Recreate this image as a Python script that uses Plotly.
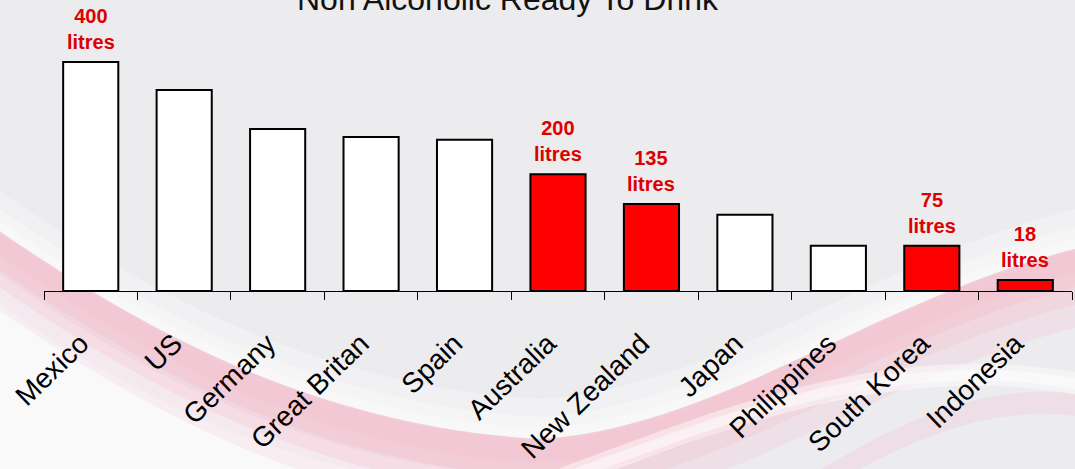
import plotly.graph_objects as go

# ---------------- data ----------------
countries = ["Mexico", "US", "Germany", "Great Britan", "Spain", "Australia",
             "New Zealand", "Japan", "Philippines", "South Korea", "Indonesia"]
litres = [400, 351, 283, 269, 264, 204, 152, 133, 79, 79, 19]
highlighted = ["Australia", "New Zealand", "South Korea", "Indonesia"]
value_labels = {"Mexico": "400", "Australia": "200", "New Zealand": "135",
                "South Korea": "75", "Indonesia": "18"}
unit = "litres"
title_text = "Non Alcoholic Ready To Drink"

# ---------------- layout geometry ----------------
W, H = 1075, 469
ML, MR, MT, MB = 44, 2.5, 40, 178
PW = W - ML - MR
PH = H - MT - MB

def P(x, y):
    """pixel -> paper coordinates string"""
    return f"{(x - ML) / PW:.5f},{(H - MB - y) / PH:.5f}"

def path(cmds):
    return " ".join(c if isinstance(c, str) else P(*c) for c in cmds)

shapes = []
def add_shape(cmds, color):
    shapes.append(dict(type="path", xref="paper", yref="paper", layer="below",
                       path=path(cmds), fillcolor=color, line=dict(width=0)))

def band(segs, d_up, d_down, color, dy=0):
    """segs: list of cubic segments (p0,p1,p2,p3) in pixels; band around them."""
    sh = lambda p, o: (p[0], p[1] + dy + o)
    cmds = ["M", sh(segs[0][0], -d_up)]
    for s in segs:
        cmds += ["C", sh(s[1], -d_up), sh(s[2], -d_up), sh(s[3], -d_up)]
    cmds += ["L", sh(segs[-1][3], d_down)]
    for s in reversed(segs):
        cmds += ["C", sh(s[2], d_down), sh(s[1], d_down), sh(s[0], d_down)]
    cmds.append("Z")
    add_shape(cmds, color)

swoosh = [((-5, 252), (120, 338), (300, 450), (540, 463)),
          ((540, 463), (720, 452), (880, 320), (1080, 272))]
PINK = "250,172,194"

# whitish lower-left region
add_shape(["M", (-5, 270), "C", (120, 360), (300, 470), (560, 478),
           "L", (-5, 478), "Z"], "rgba(255,255,255,0.45)")
add_shape(["M", (-5, 300), "C", (120, 390), (300, 490), (560, 495),
           "L", (-5, 495), "Z"], "rgba(255,255,255,0.45)")
# white glow above the band
band(swoosh, 40, 0, "rgba(255,255,255,0.25)", dy=-24)
band(swoosh, 22, 0, "rgba(255,255,255,0.35)", dy=-24)
band(swoosh, 10, 0, "rgba(255,255,255,0.35)", dy=-24)
# pink band: sharp upper edge, fading downwards
band(swoosh, 24, 55, f"rgba({PINK},0.14)")
band(swoosh, 24, 32, f"rgba({PINK},0.20)")
band(swoosh, 24, 14, f"rgba({PINK},0.24)")
band(swoosh, 22, 0, f"rgba({PINK},0.12)")
# white stripe below the rising part
stripe = [((560, 480), (700, 430), (880, 348), (1080, 385))]
band(stripe, 12, 10, "rgba(255,255,255,0.45)")
band(stripe, 6, 5, "rgba(255,255,255,0.45)")
# faint pink below the stripe on the right
lower = [((820, 480), (920, 420), (1000, 392), (1080, 405))]
band(lower, 10, 12, f"rgba({PINK},0.18)")

# ---------------- figure ----------------
bar_colors = ["#ff0000" if c in highlighted else "#ffffff" for c in countries]

fig = go.Figure()
fig.add_trace(go.Bar(
    x=countries, y=litres,
    marker=dict(color=bar_colors, line=dict(color="#000000", width=2)),
    hoverinfo="skip",
))

for c, v in zip(countries, litres):
    if c in value_labels:
        fig.add_annotation(
            x=c, y=v, xref="x", yref="y",
            text=f"<b>{value_labels[c]}<br>{unit}</b>",
            showarrow=False, yanchor="bottom", yshift=7,
            font=dict(family="Liberation Sans, Arial", size=20, color="#dd0000"),
        )

fig.add_annotation(
    x=(508 - ML) / PW, y=(H - MB - 19) / PH, xref="paper", yref="paper",
    text=title_text, showarrow=False, xanchor="center", yanchor="bottom",
    font=dict(family="Liberation Sans, Arial", size=32, color="#111111"),
)

fig.update_layout(
    width=W, height=H,
    margin=dict(l=ML, r=MR, t=MT, b=MB, pad=0),
    paper_bgcolor="#ecebee",
    plot_bgcolor="rgba(0,0,0,0)",
    showlegend=False,
    bargap=0.41,
    shapes=shapes,
    font=dict(family="Liberation Sans, Arial", color="#000000"),
    xaxis=dict(
        type="category",
        showline=True, linecolor="#000000", linewidth=1,
        ticks="outside", tickson="boundaries", ticklen=8,
        tickcolor="#000000", tickwidth=1,
        tickangle=-44,
        tickfont=dict(family="Liberation Sans, Arial", size=28, color="#000000"),
        ticklabelstandoff=24,
        ticklabelshift=-10,
        showgrid=False, zeroline=False,
    ),
    yaxis=dict(visible=False, range=[0, 400 * PH / 229], showgrid=False, zeroline=False),
)

fig.write_html("out.html")
